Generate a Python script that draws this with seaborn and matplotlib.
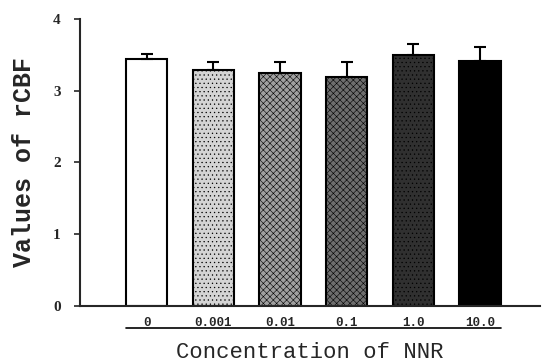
import matplotlib
matplotlib.use("Agg")
import matplotlib.pyplot as plt
import matplotlib.transforms as mtransforms
import seaborn as sns
import pandas as pd

# values
concentrations = ["0", "0.001", "0.01", "0.1", "1.0", "10.0"]
rcbf_mean = [3.44, 3.29, 3.25, 3.19, 3.50, 3.41]
rcbf_sem = [0.07, 0.11, 0.15, 0.21, 0.15, 0.20]
bar_colors = ["#ffffff", "#d4d4d4", "#a0a0a0", "#6e6e6e", "#303030", "#000000"]
bar_hatches = ["", "....", "xxxxx", "xxxxx", "....", ""]

df = pd.DataFrame({"Concentration": concentrations, "rCBF": rcbf_mean})

sns.set_style("ticks")
plt.rcParams["font.family"] = ["Liberation Serif", "DejaVu Serif"]
plt.rcParams["hatch.linewidth"] = 0.4

fig = plt.figure(figsize=(5.44, 3.63), dpi=100)
ax = fig.add_axes([0.147, 0.157, 0.846, 0.791])

sns.barplot(data=df, x="Concentration", y="rCBF", order=concentrations,
            width=0.62, edgecolor="black", linewidth=1.5, ax=ax, errorbar=None)
for patch, fc, h in zip(ax.patches, bar_colors, bar_hatches):
    patch.set_facecolor(fc)
    patch.set_hatch(h)

ax.errorbar(range(len(concentrations)), rcbf_mean,
            yerr=[[0] * len(rcbf_sem), rcbf_sem], fmt="none",
            ecolor="black", elinewidth=1.5, capsize=4, capthick=1.5)

ax.set_ylim(0, 4)
ax.set_xlim(-1.0, 5.9)
ax.set_yticks([0, 1, 2, 3, 4])
ax.tick_params(axis="y", length=4, width=1.2, labelsize=11, pad=10)
ax.tick_params(axis="x", length=0, pad=8)
for lab in ax.get_yticklabels():
    lab.set_fontweight("bold")
for lab in ax.get_xticklabels():
    lab.set_fontweight("bold")
    lab.set_family(["Liberation Mono", "DejaVu Sans Mono"])
    lab.set_fontsize(9)

sns.despine(ax=ax)
for s in ["left", "bottom"]:
    ax.spines[s].set_linewidth(1.5)

ax.set_ylabel("Values of rCBF", fontsize=18, fontweight="bold",
              family=["Liberation Mono", "DejaVu Sans Mono"], labelpad=12)
ax.set_xlabel("Concentration of NNR", fontsize=16,
              family=["Liberation Mono", "DejaVu Sans Mono"], labelpad=9)

# rule under the tick labels
trans = mtransforms.blended_transform_factory(ax.transData, ax.transAxes)
ax.plot([-0.31, len(concentrations) - 1 + 0.31], [-0.077, -0.077],
        transform=trans, color="black", lw=1.2, clip_on=False)

fig.savefig("out.png", dpi=100)
